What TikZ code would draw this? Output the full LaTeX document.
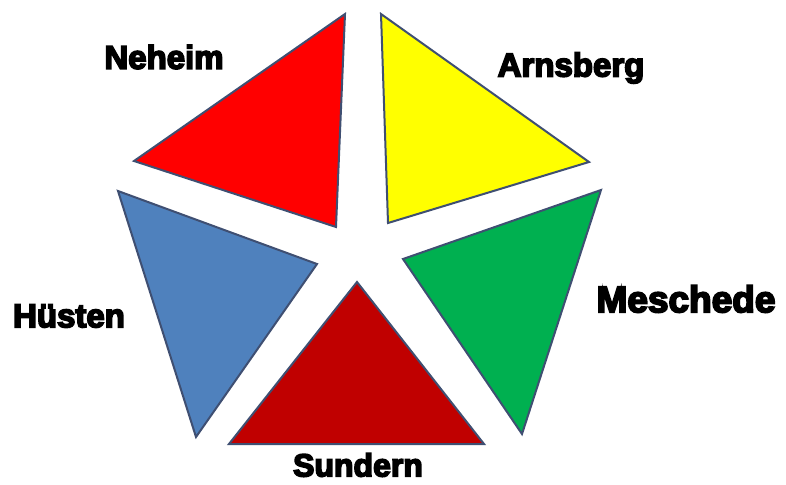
\documentclass[tikz,border=0pt]{standalone}
\usepackage{fontspec}
\newfontfamily\lblfont[FakeBold=5]{Liberation Sans Bold}
\definecolor{edge}{HTML}{3F4F72}
\definecolor{cred}{HTML}{FF0000}
\definecolor{cyellow}{HTML}{FFFF00}
\definecolor{cgreen}{HTML}{00B050}
\definecolor{cdarkred}{HTML}{C00000}
\definecolor{cblue}{HTML}{4F81BD}
\begin{document}
\begin{tikzpicture}[x=1pt,y=-1pt,
  tri/.style={draw=edge,line width=2pt,line join=miter},
  lbl/.style={inner sep=0pt,font=\lblfont\fontsize{33}{40}\selectfont,text=black}]
\useasboundingbox (0,0) rectangle (786,484);
% triangles
\fill[cred,tri] (345,14) -- (134,161) -- (336,227) -- cycle;
\fill[cyellow,tri] (381,14) -- (589,162) -- (388,223) -- cycle;
\fill[cgreen,tri] (601,190) -- (403,259) -- (522,434) -- cycle;
\fill[cdarkred,tri] (357,282) -- (229,444) -- (484,444) -- cycle;
\fill[cblue,tri] (118,191) -- (317,264) -- (196,437) -- cycle;
% labels
\node[lbl] (neheim) at (164,57) {Neheim};
\node[lbl] (arnsberg) at (571,68) {Arnsberg};
\node[lbl] (huesten) at (69,316) {Hüsten};
\node[lbl,font=\lblfont\fontsize{37}{44}\selectfont] (meschede) at (686,299) {Meschede};
\node[lbl,font=\lblfont\fontsize{32}{40}\selectfont] (sundern) at (358,465) {Sundern};
\end{tikzpicture}
\end{document}
